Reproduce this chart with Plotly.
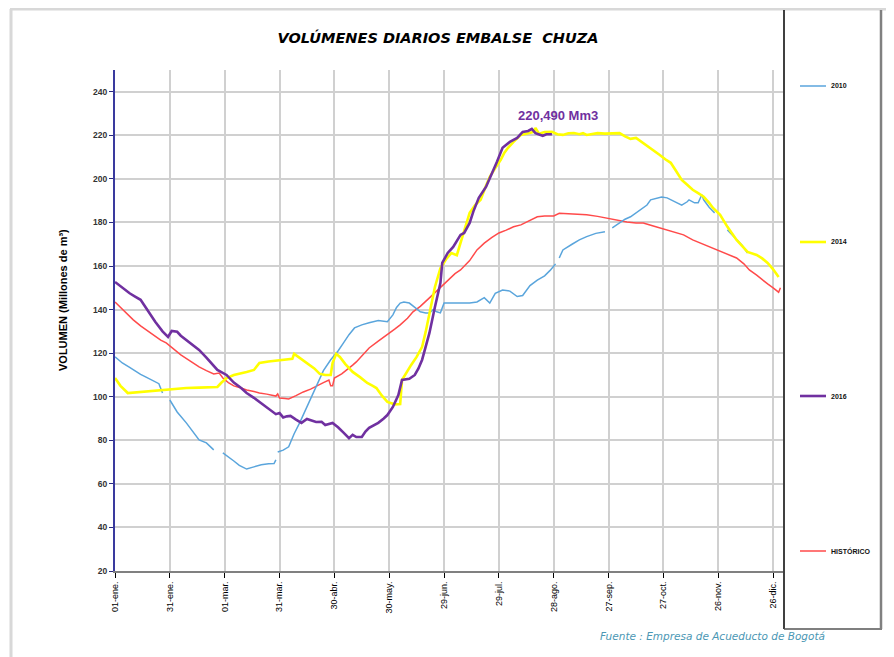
import plotly.graph_objects as go

# ---------------- DATA ----------------
tick_days = [0, 30, 60, 90, 120, 150, 180, 210, 240, 270, 300, 330, 360]
tick_labels = ["01-ene.", "31-ene.", "01-mar.", "31-mar.", "30-abr.", "30-may.", "29-jun.",
               "29-jul.", "28-ago.", "27-sep.", "27-oct.", "26-nov.", "26-dic."]

days_2010 = [0, 4, 8, 10, 14, 17, 21, 24, 26, None,
             30, 34, 39, 46, 50, 54, None,
             59, 62, 65, 68, 72, 76, 80, 84, 87, 88, None,
             89, 92, 95, 98, 101, 105, 110, 114, 118, 122, 125, 128, 131, 135, 139, 144, 149,
             152, 154, 156, 158, 161, 164, 167, 170, 172, 174, 176, 178, 180, 185, 189, 194,
             198, 202, 205, 208, 212, 216, 220, 223, 227, 231, 235, 238, 241, None,
             243, 245, 250, 254, 258, 263, 268, None,
             272, 276, 279, 282, 286, 291, 293, 296, 299, 302, 306, 310, 313, 314, 317, 319,
             321, 322, 325, 328, None,
             335, 339, 343, 346]
vol_2010 = [118.3, 115.5, 113.5, 112.3, 110.3, 109.0, 107.5, 106.0, 101.7, None,
            98.5, 93.0, 88.0, 80.2, 78.8, 75.6, None,
            74.2, 72.5, 70.5, 68.5, 66.8, 67.8, 68.8, 69.2, 69.3, 71.0, None,
            74.6, 75.5, 77.0, 83.0, 88.0, 95.3, 105.0, 112.0, 117.0, 121.0, 124.7, 128.5,
            131.6, 133.0, 134.0, 135.0, 134.4,
            137.6, 141.0, 143.0, 143.5, 143.0, 141.0, 139.0, 138.5, 138.5, 140.0, 139.0, 138.5,
            143.0, 143.0, 143.0, 143.0,
            143.5, 145.5, 143.0, 147.5, 149.0, 148.5, 146.0, 146.5, 151.0, 153.5, 155.5, 158.0,
            161.0, None,
            163.7, 167.4, 170.0, 172.0, 173.5, 175.0, 175.7, None,
            177.5, 179.8, 181.5, 182.6, 185.0, 188.0, 190.4, 191.0, 191.7, 191.3, 189.5, 188.0,
            189.5, 190.4, 189.0, 189.0, 192.7, 190.4, 187.0, 184.4, None,
            176.6, 173.0, 169.5, 166.0]

days_2014 = [0, 3, 7, 14, 20, 25, 32, 39, 46, 52, 56, 58, 61, 65, 69, 72, 76, 79, 84, 87,
             92, 97, 98, 101, 105, 109, 112, 115, 118, 119, 121, 123, 126, 130, 134, 138,
             141, 143, 146, 149, 153, 156, 157, 160, 162, 165, 168, 170, 172, 175, 178, 181,
             184, 187, 190, 192, 194, 197, 200, 203, 205, 208, 211, 213, 215, 218, 222, 226,
             229, 230, 232, 235, 239, 242, 245, 248, 251, 254, 256, 258, 261, 264, 268, 272,
             276, 279, 282, 285, 288, 291, 295, 298, 301, 304, 307, 310, 313, 316, 319, 322,
             325, 327, 331, 335, 340, 343, 346, 351, 354, 357, 360, 363]
vol_2014 = [108.6, 105.0, 101.7, 102.2, 102.7, 103.1, 103.5, 104.0, 104.2, 104.3, 104.5,
            106.3, 108.6, 110.0, 111.0, 111.4, 112.3, 115.5, 116.2, 116.4,
            117.0, 117.4, 119.7, 117.8, 115.5, 113.0, 110.5, 110.0, 110.0, 115.5, 119.7, 118.3,
            115.0, 111.4, 109.0, 106.3,
            105.0, 104.0, 100.5, 97.6, 96.5, 96.7, 107.7, 112.0, 114.6, 118.3, 122.9, 130.0,
            138.5, 150.4, 159.0, 163.0,
            166.0, 165.0, 173.4, 179.0, 184.4, 188.0, 190.4, 197.0, 201.0, 205.0, 208.8, 212.0,
            214.3, 217.0, 220.2, 221.0,
            221.6, 223.4, 220.7, 221.5, 221.6, 220.5, 220.2, 221.0, 221.1, 220.5, 221.0, 220.2,
            220.6, 221.0, 220.8, 220.8,
            221.0, 219.5, 218.4, 218.8, 217.0, 215.6, 213.0, 211.0, 209.0, 207.4, 203.5, 199.5,
            197.3, 195.0, 193.5, 191.8,
            189.0, 186.8, 183.5, 178.0, 172.0, 169.0, 166.5, 165.1, 163.5, 161.4, 158.5, 155.0]

days_2016 = [0, 4, 8, 11, 14, 18, 22, 26, 29, 31, 34, 36, 39, 43, 46, 50, 53, 56, 61, 65,
             69, 72, 76, 79, 83, 86, 88, 90, 92, 94, 96, 99, 102, 105, 108, 110, 113, 115,
             119, 122, 125, 128, 130, 132, 135, 137, 139, 142, 144, 147, 149, 152, 155, 157,
             161, 164, 166, 168, 170, 172, 175, 178, 179, 182, 185, 189, 191, 194, 196, 199,
             203, 206, 209, 212, 216, 220, 223, 226, 228, 230, 234, 236, 239]
vol_2016 = [152.7, 150.0, 147.5, 146.0, 144.5, 139.5, 134.4, 130.0, 127.5, 130.2, 129.8,
            128.0, 126.0, 123.5, 121.5, 118.0, 115.0, 112.3, 110.0, 106.5,
            104.0, 101.7, 99.5, 97.6, 95.0, 93.0, 92.0, 92.5, 90.5, 91.0, 91.2, 89.5, 88.0,
            89.8, 89.0, 88.4, 88.5, 87.0,
            88.0, 86.0, 83.5, 81.0, 82.5, 81.5, 81.5, 84.0, 85.7, 87.0, 88.0, 90.0, 91.6, 95.3,
            100.8, 107.7,
            108.2, 110.0, 113.0, 117.0, 123.0, 129.3, 141.2, 152.2, 161.4, 166.0, 168.8, 174.3,
            175.2, 179.8, 185.0, 191.3,
            196.4, 201.9, 208.0, 214.3, 217.0, 218.8, 221.6, 222.0, 223.0, 221.0, 219.8, 220.5,
            220.49]

days_hist = [0, 3, 6, 10, 14, 17, 21, 25, 28, 32, 36, 41, 46, 50, 54, 57, 59, 62, 65, 69,
             72, 76, 79, 83, 85, 88, 89, 90, 93, 95, 99, 103, 107, 111, 114, 117, 118, 119,
             120, 124, 127, 130, 132, 136, 139, 144, 149, 153, 156, 160, 163, 167, 172, 177,
             182, 186, 189, 194, 198, 202, 206, 210, 214, 218, 222, 226, 231, 235, 240, 243,
             248, 253, 258, 264, 269, 275, 280, 285, 289, 294, 298, 302, 307, 311, 316, 321,
             327, 333, 340, 344, 347, 351, 354, 357, 360, 363, 364]
vol_hist = [143.5, 141.0, 138.5, 135.3, 132.5, 130.7, 128.5, 126.0, 124.7, 122.0, 119.2,
            116.5, 113.7, 112.0, 110.5, 110.9, 108.6, 106.5, 105.0, 104.0,
            103.1, 102.4, 101.7, 101.2, 100.8, 100.3, 101.3, 99.4, 99.2, 99.0, 100.5, 102.2,
            103.5, 105.0, 106.5, 107.7, 105.0, 105.0,
            108.6, 110.5, 112.3, 114.5, 116.0, 119.5, 122.4, 125.5, 128.4, 131.0, 133.0, 136.0,
            139.0, 141.5, 145.4, 149.5,
            153.6, 156.5, 158.2, 162.5, 167.4, 170.5, 173.0, 175.2, 176.5, 178.0, 178.9, 180.5,
            182.6, 183.0, 183.0, 184.2,
            184.0, 183.8, 183.5, 182.8, 182.0, 181.2, 180.2, 179.8, 179.8, 178.5, 177.5, 176.5,
            175.3, 174.3, 172.0, 170.2,
            168.3, 166.0, 163.7, 161.0, 158.2, 155.8, 153.6, 151.8, 150.0, 148.0, 150.0]

series_names = ["2010", "2014", "2016", "HISTÓRICO"]
series_colors = ["#5aa5dc", "#ffff00", "#7030a0", "#ff4a4a"]
peak_label = "220,490 Mm3"

# ---------------- FIGURE ----------------
fig = go.Figure()
fig.add_trace(go.Scatter(x=days_hist, y=vol_hist, mode="lines", name=series_names[3],
                         line=dict(color=series_colors[3], width=1.5), showlegend=False))
fig.add_trace(go.Scatter(x=days_2010, y=vol_2010, mode="lines", name=series_names[0],
                         line=dict(color=series_colors[0], width=1.5), connectgaps=False,
                         showlegend=False))
fig.add_trace(go.Scatter(x=days_2014, y=vol_2014, mode="lines", name=series_names[1],
                         line=dict(color=series_colors[1], width=2.6), showlegend=False))
fig.add_trace(go.Scatter(x=days_2016, y=vol_2016, mode="lines", name=series_names[2],
                         line=dict(color=series_colors[2], width=2.6), showlegend=False))

# page offset caused by the default 8px body margin of the html page
OFF = 8
PAGE_W, PAGE_H = 894, 657
W, H = PAGE_W - OFF, PAGE_H - OFF
PLOT_L, PLOT_R, PLOT_T, PLOT_B = 115, 783, 70, 571   # plot area in page pixels
L, T = PLOT_L - OFF, PLOT_T - OFF
R = (OFF + W) - PLOT_R
B = (OFF + H) - PLOT_B
PW, PH = PLOT_R - PLOT_L, PLOT_B - PLOT_T


def px(xp):
    return (xp - PLOT_L) / PW


def py(yp):
    return (PLOT_B - yp) / PH


shapes = [
    # outer frame (grey top and left)
    dict(type="line", xref="paper", yref="paper", x0=px(10), x1=px(894), y0=py(9), y1=py(9),
         line=dict(color="#d8d8d8", width=3)),
    dict(type="line", xref="paper", yref="paper", x0=px(11), x1=px(11), y0=py(9), y1=py(657),
         line=dict(color="#d8d8d8", width=3)),
    # legend box
    dict(type="line", xref="paper", yref="paper", x0=px(784), x1=px(784), y0=py(10), y1=py(629),
         line=dict(color="#000000", width=1.5)),
    dict(type="line", xref="paper", yref="paper", x0=px(784), x1=px(882), y0=py(629), y1=py(629),
         line=dict(color="#555555", width=1.5)),
    dict(type="line", xref="paper", yref="paper", x0=px(881), x1=px(881), y0=py(10), y1=py(629),
         line=dict(color="#808080", width=2.5)),
]
legend_y = [86, 242, 396, 551]
legend_w = [1.5, 2.6, 2.6, 1.5]
annotations = []
for name, col, yy, lw in zip(series_names, series_colors, legend_y, legend_w):
    shapes.append(dict(type="line", xref="paper", yref="paper", x0=px(800), x1=px(826),
                       y0=py(yy), y1=py(yy), line=dict(color=col, width=lw)))
    annotations.append(dict(xref="paper", yref="paper", x=px(829), y=py(yy), text=name,
                            showarrow=False, xanchor="left", yanchor="middle",
                            font=dict(family="Liberation Sans", size=7, color="#111111",
                                      weight="bold")))

annotations += [
    dict(xref="paper", yref="paper", x=px(63), y=py(300), text="VOLUMEN (Millones de m³)",
         textangle=-90, showarrow=False, xanchor="center", yanchor="middle",
         font=dict(family="Liberation Sans", size=11, color="#000000", weight="bold")),
    dict(xref="x", yref="y", x=242.5, y=229, text=peak_label, showarrow=False,
         xanchor="center", yanchor="middle",
         font=dict(family="Liberation Sans", size=13, color="#7030a0", weight="bold")),
    dict(xref="paper", yref="paper", x=px(712), y=py(636),
         text="Fuente : Empresa de Acueducto de Bogotá", showarrow=False,
         xanchor="center", yanchor="middle",
         font=dict(family="DejaVu Sans", size=10.5, color="#4b97b4", style="italic")),
]

fig.update_layout(
    width=W, height=H,
    margin=dict(l=L, r=R, t=T, b=B, autoexpand=False),
    paper_bgcolor="white", plot_bgcolor="white",
    title=dict(text="VOLÚMENES DIARIOS EMBALSE  CHUZA", x=(438 - OFF) / W, xanchor="center",
               y=1 - (38 - OFF) / H, yanchor="middle",
               font=dict(family="DejaVu Sans", size=14.5, color="#000000", weight="bold",
                         style="italic")),
    shapes=shapes,
    annotations=annotations,
    xaxis=dict(range=[0, 365.4], tickmode="array", tickvals=tick_days, ticktext=tick_labels,
               tickangle=-90, showgrid=True, gridcolor="#d0d0d0", gridwidth=1.5,
               showline=True, linecolor="#808080", linewidth=2, zeroline=False,
               ticks="outside", ticklen=5, tickcolor="#000000", tickwidth=1,
               tickfont=dict(family="Liberation Sans", size=9, color="#000000")),
    yaxis=dict(range=[20, 250], tickmode="array", tickvals=list(range(20, 241, 20)),
               showgrid=True, gridcolor="#d0d0d0", gridwidth=1.5,
               showline=True, linecolor="#3a3a9e", linewidth=2, zeroline=False,
               ticks="outside", ticklen=4, tickcolor="#2a2a80", tickwidth=1,
               tickfont=dict(family="Liberation Sans", size=8.5, color="#333333",
                             weight="bold")),
)

fig.write_html("out.html")
